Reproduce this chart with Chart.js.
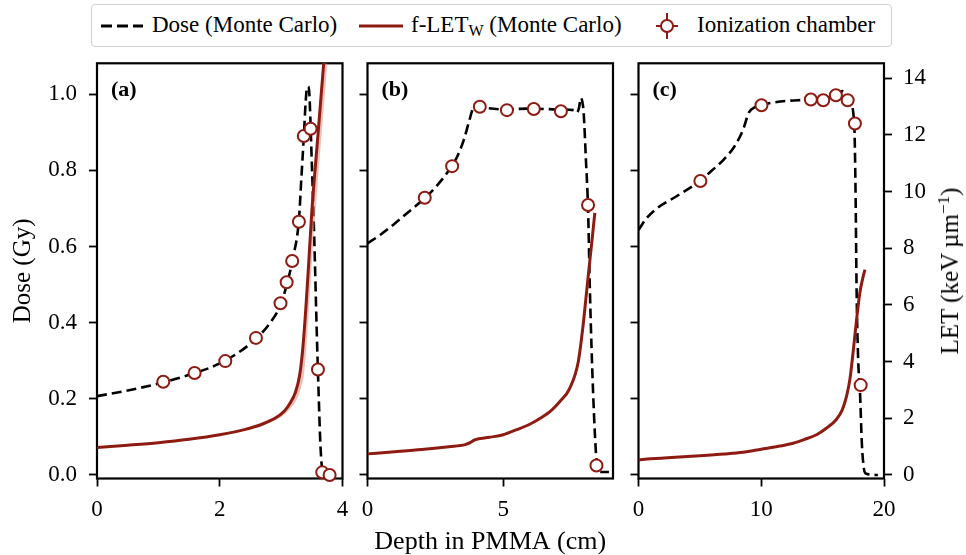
<!DOCTYPE html>
<html>
<head>
<meta charset="utf-8">
<script src="https://cdn.jsdelivr.net/npm/chart.js@4.4.1/dist/chart.umd.min.js"></script>
<style>
  body { margin: 0; background: #fff; }
  #wrap { position: relative; width: 966px; height: 555px; overflow: hidden; font-family: 'Liberation Serif', serif; color: #000; }
  #wrap canvas { position: absolute; left: 0; top: 0; }
  #legend { position: absolute; left: 91px; top: 4px; width: 801px; height: 43px; box-sizing: border-box;
            border: 1.5px solid #cfcfcf; border-radius: 4px; background: #fff; }
  #legend svg { position: absolute; top: 0; }
  #legend .t { position: absolute; top: 7px; font-size: 23px; line-height: 26px; white-space: nowrap; }
  #legend sub { font-size: 16px; line-height: 0; vertical-align: -4px; }
  #letTitle { position: absolute; left: 950px; top: 271px; transform: translate(-50%, -50%) rotate(-90deg);
              font-size: 25px; white-space: nowrap; }
  #letTitle sup { font-size: 17px; line-height: 0; vertical-align: 9px; }
</style>
</head>
<body>
<div id="wrap">
  <canvas id="chartA" width="966" height="555"></canvas>
  <canvas id="chartB" width="966" height="555"></canvas>
  <canvas id="chartC" width="966" height="555"></canvas>
  <div id="legend">
    <svg style="left:8px" width="44" height="40"><line x1="1" y1="21" x2="43" y2="21" stroke="#000" stroke-width="2.8" stroke-dasharray="11,5"/></svg>
    <span class="t" style="left:60px">Dose (Monte Carlo)</span>
    <svg style="left:266px" width="46" height="40"><line x1="1" y1="21" x2="45" y2="21" stroke="#8e1b12" stroke-width="3"/></svg>
    <span class="t" style="left:319px">f-LET<sub>W</sub> (Monte Carlo)</span>
    <svg style="left:560px" width="30" height="40">
      <line x1="4" y1="21" x2="26" y2="21" stroke="#8e1b12" stroke-width="2"/>
      <line x1="15" y1="8" x2="15" y2="34" stroke="#8e1b12" stroke-width="2"/>
      <circle cx="15" cy="21" r="6" fill="#fff" stroke="#8e1b12" stroke-width="2"/>
    </svg>
    <span class="t" style="left:605px">Ionization chamber</span>
  </div>
  <div id="letTitle">LET (keV&#8201;µm<sup>−1</sup>)</div>
</div>
<script>
const FONT = 'Liberation Serif'
const RED = '#8e1b12'
const BAND = 'rgba(214,140,120,0.55)'

// axis ticks
const doseTicks = [0, 0.2, 0.4, 0.6, 0.8, 1.0]
const letTicks = [0, 2, 4, 6, 8, 10, 12, 14]
const xTicksA = [0, 2, 4]
const xTicksB = [0, 5]
const xTicksC = [0, 10, 20]

// (a) depth (cm) / dose (Gy)
const doseAx = [0, 0.5, 1.0, 1.5, 2.0, 2.5, 2.8, 3.0, 3.1, 3.2, 3.29, 3.33, 3.37, 3.4, 3.42, 3.44, 3.46, 3.5, 3.54, 3.58, 3.61, 3.64, 3.67, 3.72, 3.8]
const doseAy = [0.207, 0.222, 0.24, 0.263, 0.293, 0.345, 0.395, 0.45, 0.505, 0.575, 0.67, 0.78, 0.89, 0.98, 1.015, 1.02, 1.0, 0.82, 0.62, 0.38, 0.22, 0.08, 0.015, 0.002, 0.0]
// (a) f-LET (keV/um)
const letAx = [0, 0.5, 1.0, 1.5, 2.0, 2.4, 2.7, 2.9, 3.05, 3.15, 3.23, 3.3, 3.35, 3.4, 3.45, 3.5, 3.6, 3.7, 3.78]
const letAy = [0.97, 1.05, 1.14, 1.26, 1.42, 1.6, 1.8, 2.0, 2.25, 2.55, 2.9, 3.5, 4.4, 5.8, 7.5, 9.3, 12.0, 14.7, 16.8]
// (a) f-LET uncertainty band
const bandAx = [2.5, 2.8, 3.0, 3.15, 3.25, 3.32, 3.38, 3.44, 3.5, 3.6, 3.7, 3.78]
const bandAhi = [1.70, 1.97, 2.2, 2.6, 3.1, 3.8, 5.0, 7.4, 9.5, 12.4, 15.2, 17.2]
const bandAlo = [1.62, 1.85, 2.05, 2.35, 2.65, 3.05, 3.7, 5.4, 7.5, 10.4, 13.1, 15.3]
// (a) ionization chamber
const icAx = [1.08, 1.59, 2.09, 2.59, 2.99, 3.09, 3.18, 3.29, 3.37, 3.48, 3.6, 3.67, 3.79]
const icAy = [0.245, 0.268, 0.299, 0.36, 0.451, 0.506, 0.562, 0.665, 0.89, 0.909, 0.277, 0.007, 0.0]

// (b)
const doseBx = [0, 0.5, 1.0, 1.5, 2.0, 2.5, 3.0, 3.3, 3.55, 3.75, 3.9, 4.0, 4.3, 5.0, 6.0, 7.0, 7.6, 7.72, 7.8, 7.86, 7.92, 7.97, 8.05, 8.13, 8.2, 8.32, 8.44, 8.52, 8.6, 8.9]
const doseBy = [0.608, 0.632, 0.66, 0.69, 0.72, 0.755, 0.8, 0.835, 0.88, 0.93, 0.965, 0.972, 0.965, 0.96, 0.962, 0.96, 0.958, 0.952, 0.965, 0.99, 0.98, 0.95, 0.83, 0.7, 0.48, 0.21, 0.04, 0.012, 0.008, 0.008]
const letBx = [0, 1, 2, 3, 3.6, 3.8, 3.95, 4.5, 5.0, 5.5, 6.0, 6.4, 6.8, 7.1, 7.45, 7.77, 7.95, 8.08, 8.2, 8.3, 8.38]
const letBy = [0.745, 0.82, 0.9, 1.0, 1.07, 1.15, 1.24, 1.33, 1.42, 1.6, 1.8, 2.02, 2.3, 2.6, 3.05, 4.0, 5.3, 6.5, 7.6, 8.5, 9.25]
const icBx = [2.11, 3.12, 4.14, 5.14, 6.13, 7.13, 8.13, 8.44]
const icBy = [0.728, 0.811, 0.967, 0.958, 0.961, 0.955, 0.709, 0.025]

// (c)
const doseCx = [0, 0.6, 1.5, 3.0, 5.0, 6.0, 7.0, 7.8, 8.5, 9.0, 9.5, 10.0, 11.0, 12.0, 13.0, 14.0, 15.0, 16.0, 16.6, 17.0, 17.3, 17.5, 17.6, 17.68, 17.77, 17.9, 18.04, 18.2, 18.35, 18.5, 19.5]
const doseCy = [0.643, 0.672, 0.7, 0.73, 0.772, 0.8, 0.83, 0.862, 0.905, 0.952, 0.966, 0.972, 0.978, 0.982, 0.984, 0.986, 0.99, 0.995, 1.008, 1.0, 0.98, 0.95, 0.9, 0.75, 0.48, 0.3, 0.22, 0.08, 0.02, 0.004, 0.0]
const letCx = [0, 1, 3, 5, 7, 8.5, 10, 11.5, 12.6, 13.5, 14.5, 15.3, 16.1, 16.6, 16.96, 17.23, 17.5, 17.77, 18.04, 18.3, 18.45]
const letCy = [0.53, 0.57, 0.63, 0.68, 0.74, 0.8, 0.91, 1.02, 1.12, 1.25, 1.42, 1.65, 1.95, 2.3, 2.8, 3.4, 4.4, 5.5, 6.45, 7.0, 7.25]
const icCx = [5.04, 10.02, 14.04, 15.05, 16.08, 17.04, 17.63, 18.10]
const icCy = [0.772, 0.971, 0.986, 0.984, 0.997, 0.984, 0.923, 0.236]

// axis ranges
const DOSE_MIN = -0.0092, DOSE_MAX = 1.081
const LET_MIN = -0.124, LET_MAX = 14.53

const tickFont = { family: FONT, size: 23 }
const tickGrid = { drawOnChartArea: false, drawTicks: true, tickLength: 8, tickWidth: 1.8, tickColor: '#000', color: '#000' }

function pts(xs, ys) {
    return xs.map((x, i) => ({ x: x, y: ys[i] }))
}

const framePlugin = {
    id: 'frame',
    beforeDatasetsDraw(chart, args, opts) {
        const { ctx, chartArea: a } = chart
        ctx.save()
        ctx.strokeStyle = '#000'
        ctx.lineWidth = 2.2
        ctx.strokeRect(a.left, a.top, a.right - a.left, a.bottom - a.top)
        ctx.font = 'bold 22px "Liberation Serif"'
        ctx.fillStyle = '#000'
        ctx.textBaseline = 'middle'
        ctx.fillText(opts.label, a.left + 14, a.top + 27)
        ctx.restore()
    }
}

function xScale(max, ticks, withTitle) {
    return {
        type: 'linear', position: 'bottom', min: 0, max: max,
        afterBuildTicks: s => { s.ticks = ticks.map(v => ({ value: v })) },
        afterFit: s => { s.height = 76.5 },
        ticks: { font: tickFont, color: '#000', padding: 10, maxRotation: 0, callback: v => String(v) },
        grid: tickGrid,
        border: { display: false },
        title: {
            display: withTitle, text: 'Depth in PMMA (cm)', color: '#000',
            font: { family: FONT, size: 26, lineHeight: 1 }, padding: { top: 0, bottom: 0 }
        }
    }
}

function doseScale(labels, width) {
    return {
        type: 'linear', position: 'left', min: DOSE_MIN, max: DOSE_MAX,
        afterBuildTicks: s => { s.ticks = doseTicks.map(v => ({ value: v })) },
        afterFit: s => { s.width = width },
        ticks: { font: tickFont, color: '#000', padding: 12, callback: v => labels ? v.toFixed(1) : '' },
        grid: tickGrid,
        border: { display: false },
        title: {
            display: labels, text: 'Dose (Gy)', color: '#000',
            font: { family: FONT, size: 25 }, padding: { top: 8, bottom: 0 }
        }
    }
}

function letScale(show) {
    return {
        type: 'linear', position: 'right', display: show, min: LET_MIN, max: LET_MAX,
        afterBuildTicks: s => { s.ticks = letTicks.map(v => ({ value: v })) },
        afterFit: s => { s.width = show ? 82 : 0 },
        ticks: { font: tickFont, color: '#000', padding: 11, callback: v => String(v) },
        grid: tickGrid,
        border: { display: false }
    }
}

function makePanel(id, cfg) {
    let datasets = [
        {
            label: 'Ionization chamber', data: pts(cfg.icX, cfg.icY), yAxisID: 'y', showLine: false,
            pointRadius: 6, pointBorderWidth: 2, pointBorderColor: RED, pointBackgroundColor: '#fff',
            clip: false, order: 0
        },
        {
            label: 'f-LET', data: pts(cfg.letX, cfg.letY), yAxisID: 'y1', borderColor: RED, borderWidth: 3,
            pointRadius: 0, cubicInterpolationMode: 'monotone', order: 1
        },
        {
            label: 'Dose', data: pts(cfg.doseX, cfg.doseY), yAxisID: 'y', borderColor: '#000', borderWidth: 2.6,
            borderDash: [10, 5], pointRadius: 0, cubicInterpolationMode: 'monotone', order: 4
        }
    ]
    if (cfg.bandX) {
        datasets.push({
            label: 'band hi', data: pts(cfg.bandX, cfg.bandHi), yAxisID: 'y1', borderWidth: 0, pointRadius: 0,
            backgroundColor: BAND, fill: '+1', cubicInterpolationMode: 'monotone', order: 2
        })
        datasets.push({
            label: 'band lo', data: pts(cfg.bandX, cfg.bandLo), yAxisID: 'y1', borderWidth: 0, pointRadius: 0,
            cubicInterpolationMode: 'monotone', order: 3
        })
    }
    return new Chart(document.getElementById(id), {
        type: 'line',
        data: { datasets: datasets },
        options: {
            responsive: false,
            animation: false,
            events: [],
            devicePixelRatio: 1,
            layout: { padding: cfg.padding },
            scales: {
                x: xScale(cfg.xMax, cfg.xTicks, cfg.xTitle),
                y: doseScale(cfg.doseLabels, cfg.doseWidth),
                y1: letScale(cfg.letShow)
            },
            plugins: {
                legend: { display: false },
                tooltip: { enabled: false },
                frame: { label: cfg.label }
            }
        },
        plugins: [framePlugin]
    })
}

makePanel('chartA', {
    label: '(a)', xMax: 4, xTicks: xTicksA, xTitle: false,
    doseX: doseAx, doseY: doseAy, letX: letAx, letY: letAy, icX: icAx, icY: icAy,
    bandX: bandAx, bandHi: bandAhi, bandLo: bandAlo,
    doseLabels: true, doseWidth: 97, letShow: false,
    padding: { left: 0, top: 63.3, right: 966 - 342.5, bottom: 0 }
})
makePanel('chartB', {
    label: '(b)', xMax: 9.05, xTicks: xTicksB, xTitle: true,
    doseX: doseBx, doseY: doseBy, letX: letBx, letY: letBy, icX: icBx, icY: icBy,
    doseLabels: false, doseWidth: 20, letShow: false,
    padding: { left: 347.5, top: 63.3, right: 966 - 613, bottom: 0 }
})
makePanel('chartC', {
    label: '(c)', xMax: 20, xTicks: xTicksC, xTitle: false,
    doseX: doseCx, doseY: doseCy, letX: letCx, letY: letCy, icX: icCx, icY: icCy,
    doseLabels: false, doseWidth: 20, letShow: true,
    padding: { left: 618.5, top: 63.3, right: 0, bottom: 0 }
})
</script>
</body>
</html>
